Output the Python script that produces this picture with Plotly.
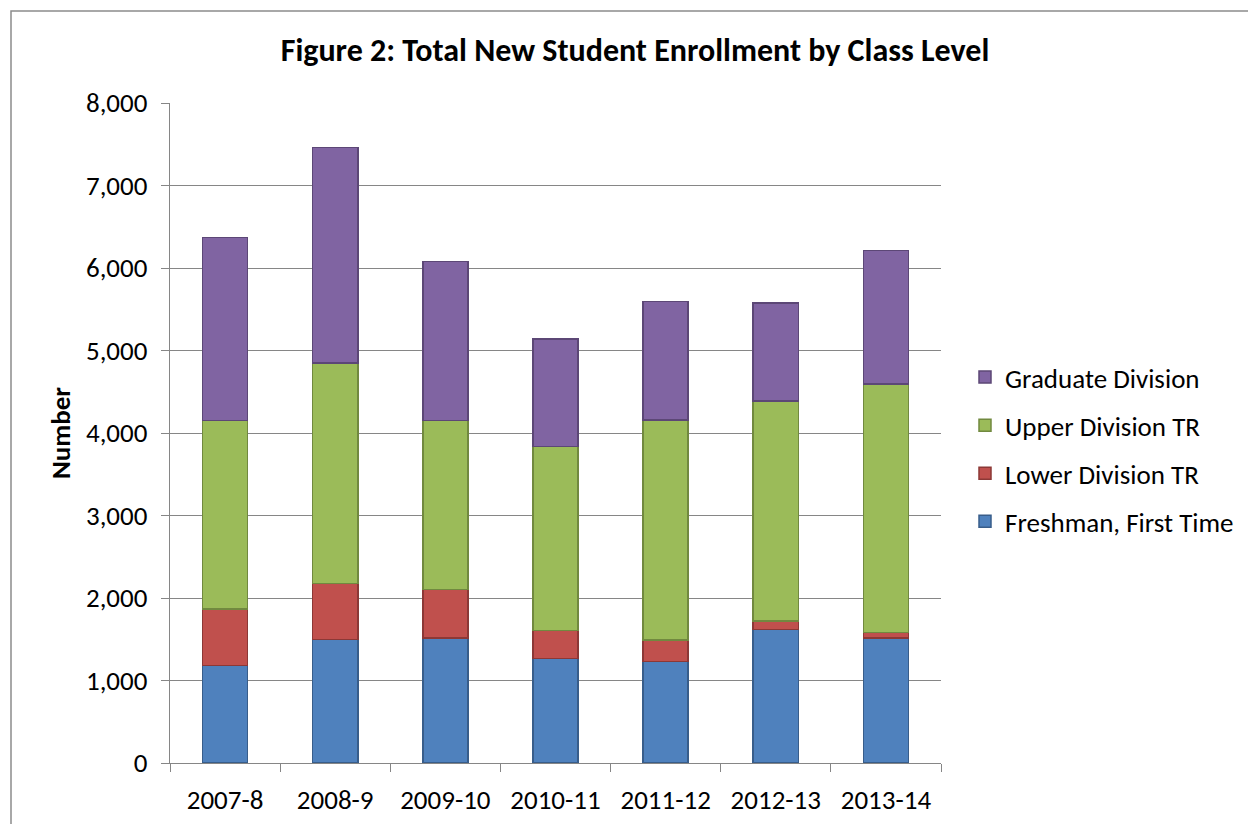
import plotly.graph_objects as go

categories = ["2007-8", "2008-9", "2009-10", "2010-11", "2011-12", "2012-13", "2013-14"]
freshman = [1181, 1496, 1516, 1269, 1233, 1618, 1516]
lower_div = [683, 680, 587, 336, 255, 104, 65]
upper_div = [2290, 2674, 2051, 2233, 2670, 2666, 3010]
graduate = [2216, 2613, 1925, 1301, 1436, 1186, 1621]

series = [
    ("Freshman, First Time", freshman, "#4F81BD", "#385D8A", 4),
    ("Lower Division TR", lower_div, "#C0504D", "#8C3836", 3),
    ("Upper Division TR", upper_div, "#9BBB59", "#71893F", 2),
    ("Graduate Division", graduate, "#8064A2", "#5C4776", 1),
]

FONT = "Carlito, Calibri, Lato, sans-serif"
W, H = 1248, 824
ML, MR, MT, MB = 170, 307, 103, 61
PW = W - ML - MR
PH = H - MT - MB

fig = go.Figure()
for name, vals, fill, edge, rank in series:
    fig.add_trace(go.Bar(
        x=categories, y=vals, name=name, legendgroup=name, legendrank=rank,
        marker=dict(color=fill, line=dict(color=edge, width=1.5)),
    ))

def px_x(p):
    return (p - ML) / PW

def px_y(p):
    return (H - MB - p) / PH

fig.update_layout(
    width=W, height=H,
    margin=dict(l=ML, r=MR, t=MT, b=MB, autoexpand=False),
    barmode="stack", bargap=0.59,
    plot_bgcolor="white", paper_bgcolor="white",
    font=dict(family=FONT, size=27, color="#000000"),
    title=dict(
        text="<b>Figure 2: Total New Student Enrollment by Class Level</b>",
        x=px_x(635), xref="paper", xanchor="center",
        y=1 - 50 / H, yref="container", yanchor="middle",
        font=dict(family=FONT, size=32, color="#000000"),
    ),
    xaxis=dict(
        type="category", automargin=False,
        showline=True, linecolor="#868686", linewidth=1.3,
        ticks="outside", tickson="boundaries", ticklen=8, tickcolor="#868686", tickwidth=1.3,
        showgrid=False, tickfont=dict(size=27), ticklabelstandoff=12,
    ),
    yaxis=dict(
        range=[0, 8000], dtick=1000, tickformat=",d", automargin=False,
        showline=True, linecolor="#868686", linewidth=1.3,
        ticks="outside", ticklen=8, tickcolor="#868686", tickwidth=1.3,
        showgrid=True, gridcolor="#868686", gridwidth=1.3,
        tickfont=dict(size=27), ticklabelstandoff=8,
        title=dict(text="<b>Number</b>", font=dict(size=27), standoff=7),
    ),
    legend=dict(
        traceorder="grouped", x=px_x(965), xanchor="left",
        y=px_y(353), yanchor="top", tracegroupgap=10,
        font=dict(size=27), bgcolor="rgba(0,0,0,0)",
    ),
    showlegend=True,
)

fig.add_shape(
    type="rect", xref="paper", yref="paper", layer="below",
    x0=px_x(11), x1=px_x(1260), y0=px_y(840), y1=px_y(11),
    line=dict(color="#8c8c8c", width=1.5), fillcolor="rgba(0,0,0,0)",
)

fig.write_html("out.html")
